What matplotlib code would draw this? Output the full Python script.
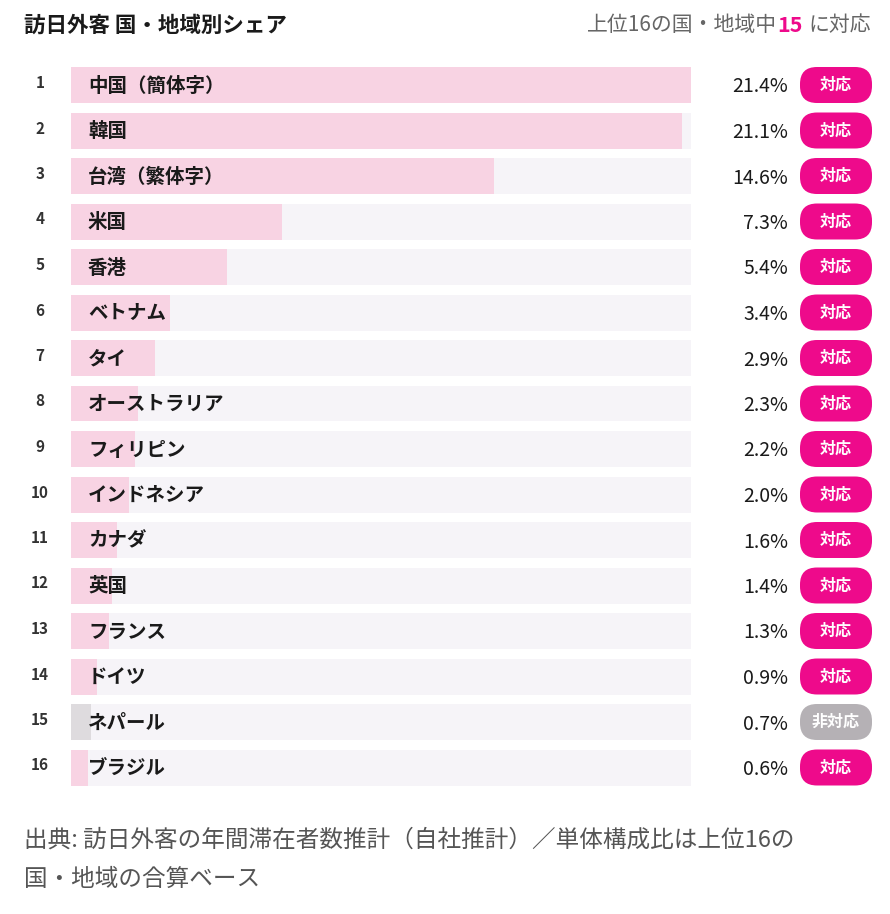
import matplotlib
matplotlib.use("Agg")
import matplotlib.pyplot as plt
from matplotlib.patches import FancyBboxPatch

plt.rcParams['font.family'] = ['Noto Sans CJK JP', 'DejaVu Sans']

ranks = list(range(1, 17))
countries = ["中国（簡体字）", "韓国", "台湾（繁体字）", "米国", "香港", "ベトナム", "タイ",
             "オーストラリア", "フィリピン", "インドネシア", "カナダ", "英国", "フランス",
             "ドイツ", "ネパール", "ブラジル"]
shares = [21.4, 21.1, 14.6, 7.3, 5.4, 3.4, 2.9, 2.3, 2.2, 2.0, 1.6, 1.4, 1.3, 0.9, 0.7, 0.6]
supported = [True]*14 + [False, True]
title = "訪日外客 国・地域別シェア"
footnote = "出典: 訪日外客の年間滞在者数推計（自社推計）／単体構成比は上位16の\n国・地域の合算ベース"

W, H = 890, 914
fig = plt.figure(figsize=(W/100, H/100), dpi=100)
fig.patch.set_facecolor("white")

step = 45.5
top = 85 - step/2
n = len(countries)
ax = fig.add_axes([71/W, 1 - (top + n*step)/H, 620/W, n*step/H])
ax.set_xlim(0, max(shares)); ax.set_ylim(n + 0.5, 0.5); ax.axis("off")
ax.set_zorder(1)

ov = fig.add_axes([0, 0, 1, 1])
ov.set_xlim(0, W); ov.set_ylim(H, 0); ov.axis("off")
ov.set_zorder(2); ov.patch.set_alpha(0)

bh = 36/step
ax.barh(ranks, [max(shares)]*n, height=bh, color="#f6f4f8")
ax.barh(ranks, shares, height=bh,
        color=["#f8d3e3" if s else "#dedbde" for s in supported])

for i, (r, c, s, sup) in enumerate(zip(ranks, countries, shares, supported)):
    y = 85 + i*step
    ov.text(40, y - 2, str(r), ha="center", va="center", fontsize=11, fontweight="bold", color="#333333")
    ov.text(88, y + 1, c, ha="left", va="center", fontsize=14, fontweight="bold", color="#1a1a1a")
    ov.text(788, y + 2, f"{s}%", ha="right", va="center", fontsize=14, color="#1a1a1a")
    col = "#ee0a8b" if sup else "#b5b1b5"
    ov.add_patch(FancyBboxPatch((800, y - 18), 72, 36, boxstyle="round,pad=0,rounding_size=17",
                                fc=col, ec="none"))
    ov.text(836, y, "対応" if sup else "非対応", ha="center", va="center",
            fontsize=11.5, fontweight="bold", color="white")

ov.text(24, 25, title, ha="left", va="center", fontsize=15.5, fontweight="bold", color="#1a1a1a")
ov.text(871, 25, "に対応", ha="right", va="center", fontsize=15, color="#666666")
ov.text(803, 25, "15", ha="right", va="center", fontsize=15.5, fontweight="bold", color="#ee0a8b")
ov.text(777, 25, "上位16の国・地域中", ha="right", va="center", fontsize=15, color="#666666")

ov.text(24, 860, footnote, ha="left", va="center", fontsize=17, color="#555555", linespacing=1.9)

fig.savefig("out.png", dpi=100, facecolor="white")
